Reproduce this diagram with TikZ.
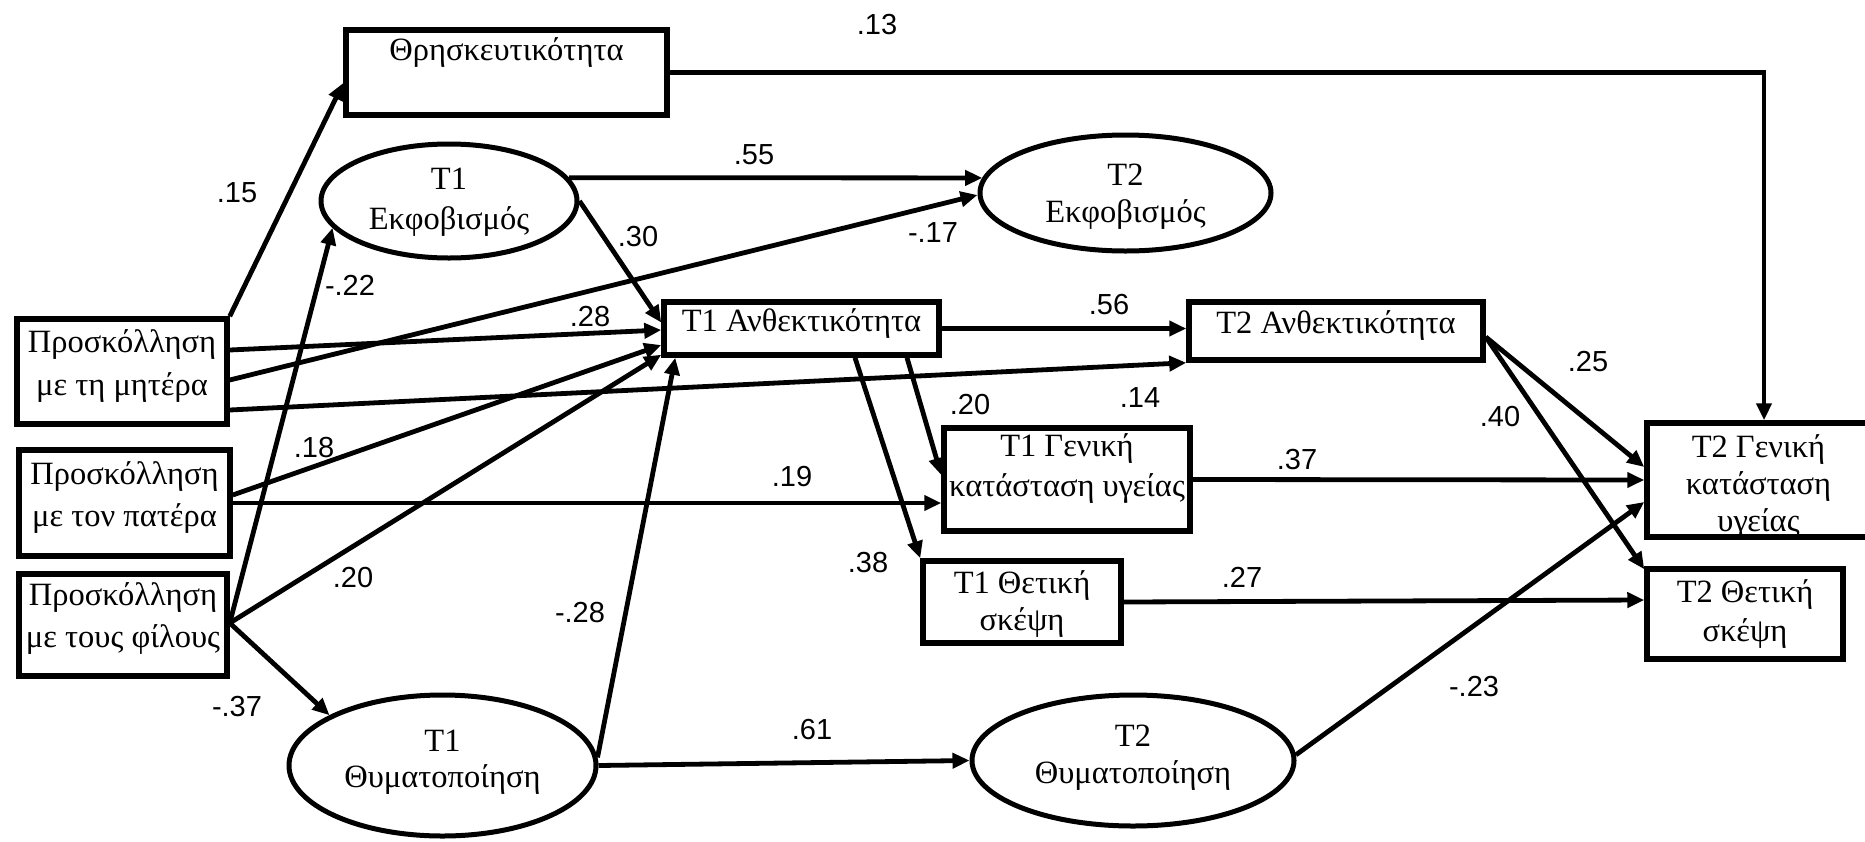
\documentclass[tikz,border=0pt]{standalone}
\usepackage{fontspec}
\setmainfont{Liberation Serif}
\newfontfamily\numfont{Liberation Sans}
\usetikzlibrary{arrows.meta,shapes.geometric,calc}
\newcommand{\mytb}[2][0pt]{\raisebox{#1}[\height][\depth]{\begin{tabular}{@{}c@{}}#2\end{tabular}}}
\begin{document}
\begin{tikzpicture}[x=1pt,y=-1pt,
  box/.style={draw, line width=5.5pt, rectangle, inner sep=0pt, font=\fontsize{32.5}{40}\selectfont},
  lat/.style={draw, line width=5pt, ellipse, inner sep=0pt, font=\fontsize{32.5}{38}\selectfont},
  conn/.style={line width=4.8pt, line join=miter, -{Triangle[length=17pt,width=15pt]}},
  coef/.style={font=\numfont\fontsize{29}{32}\selectfont, inner sep=0pt}]
\path[use as bounding box] (0,0) rectangle (1865,841);

% boxes
\node[box, minimum width=321pt, minimum height=85pt] (relig) at (506.5,72.5) {\mytb[20.5pt]{Θρησκευτικότητα}};
\node[box, minimum width=210pt, minimum height=105pt, font=\fontsize{32.5}{43}\selectfont] (mother) at (122,371.5) {\mytb[6pt]{Προσκόλληση\\με τη μητέρα}};
\node[box, minimum width=211pt, minimum height=106pt, font=\fontsize{32.5}{42}\selectfont] (father) at (124.5,503) {\mytb[6pt]{Προσκόλληση\\με τον πατέρα}};
\node[box, minimum width=208pt, minimum height=102pt, font=\fontsize{32.5}{42}\selectfont] (friends) at (123,625) {\mytb[7pt]{Προσκόλληση\\με τους φίλους}};
\node[box, minimum width=275pt, minimum height=53pt] (t1a) at (801.5,328.5) {\mytb[5pt]{T1 Ανθεκτικότητα}};
\node[box, minimum width=294pt, minimum height=58pt] (t2a) at (1336,331) {\mytb[6pt]{T2 Ανθεκτικότητα}};
\node[box, minimum width=246pt, minimum height=103pt] (t1g) at (1067,479.5) {\mytb[11pt]{T1 Γενική\\κατάσταση υγείας}};
\node[box, minimum width=198pt, minimum height=82pt, font=\fontsize{32.5}{37}\selectfont] (t1p) at (1022,602) {\mytb[-3pt]{T1 Θετική\\σκέψη}};
\node[box, minimum width=223pt, minimum height=114pt, font=\fontsize{32.5}{37}\selectfont] (t2g) at (1758.5,480) {\mytb[-7pt]{T2 Γενική\\κατάσταση\\υγείας}};
\node[box, minimum width=196pt, minimum height=90pt, font=\fontsize{32.5}{39}\selectfont] (t2p) at (1745,614) {\mytb{T2 Θετική\\σκέψη}};

% latent variables
\node[lat, minimum width=256pt, minimum height=114pt, font=\fontsize{32.5}{40}\selectfont] (t1e) at (449,201) {\mytb{T1\\Εκφοβισμός}};
\node[lat, minimum width=291pt, minimum height=116pt, font=\fontsize{32.5}{37}\selectfont] (t2e) at (1125.5,193) {\mytb[-4pt]{T2\\Εκφοβισμός}};
\node[lat, minimum width=307pt, minimum height=141pt, font=\fontsize{32.5}{36}\selectfont] (t1v) at (442.5,765.5) {\mytb[3pt]{T1\\Θυματοποίηση}};
\node[lat, minimum width=322pt, minimum height=131pt, font=\fontsize{32.5}{37}\selectfont] (t2v) at (1133,760.5) {\mytb[3pt]{T2\\Θυματοποίηση}};

% paths
\draw[conn] (mother.north east) -- ([yshift=-10.5pt]relig.west);
\draw[conn] (relig.east) -| ([xshift=5.5pt]t2g.north);
\draw[conn] (t1e.11) -- (t2e.174);
\draw[conn] ([yshift=-8.5pt]mother.east) -- ([yshift=-2pt]t2e.west);
\draw[conn] (t1e.east) -- ([yshift=6pt]t1a.west);
\draw[conn] ([yshift=2pt]friends.east) -- (t1e.193);
\draw[conn] ([yshift=21.5pt]mother.east) -- ([yshift=-1.5pt]t1a.west);
\draw[conn] ([yshift=-38.5pt]mother.east) -- (t2a.south west);
\draw[conn] ([yshift=8pt]father.east) -- ([yshift=-16.5pt]t1a.west);
\draw[conn] ([yshift=2pt]friends.east) -- ([yshift=3pt]t1a.south west);
\draw[conn] (t1v.3) -- ([xshift=14pt]t1a.south west);
\draw[conn] ([yshift=2pt]friends.east) -- (t1v.156);
\draw[conn] (t1v.east) -- (t2v.west);
\draw[conn] (t1a.east) -- (t1a.east -| t2a.west);
\draw[conn] ([xshift=105.5pt]t1a.south) -- ([yshift=4.5pt]t1g.west);
\draw[conn] ([xshift=53.5pt]t1a.south) -- (t1p.north west);
\draw[conn] (father.east) -- (father.east -| t1g.west);
\draw[conn] (t1g.east) -- (t2g.west);
\draw[conn] (t1p.east) -- ([yshift=14pt]t2p.west);
\draw[conn] ([yshift=-6pt]t2a.east) -- ([yshift=13pt]t2g.west);
\draw[conn] ([yshift=-6pt]t2a.east) -- ([yshift=-3pt]t2p.north west);
\draw[conn] (t2v.2) -- ([yshift=-22pt]t2g.west);

% coefficients
\node[coef] (c13) at (877,25) {.13};
\node[coef] (c15) at (237,193) {.15};
\node[coef] (c55) at (754,155) {.55};
\node[coef] (cm17) at (933,233) {-.17};
\node[coef] (c30) at (638,237) {.30};
\node[coef] (cm22) at (350,285) {-.22};
\node[coef] (c28) at (590,317) {.28};
\node[coef] (c56) at (1109,305) {.56};
\node[coef] (c14) at (1140,398) {.14};
\node[coef] (c20a) at (970,405) {.20};
\node[coef] (c25) at (1588,362) {.25};
\node[coef] (c40) at (1500,417) {.40};
\node[coef] (c18) at (314,448) {.18};
\node[coef] (c19) at (792,477) {.19};
\node[coef] (c37) at (1297,460) {.37};
\node[coef] (c38) at (868,563) {.38};
\node[coef] (c27) at (1242,577) {.27};
\node[coef] (c20b) at (353,578) {.20};
\node[coef] (cm28) at (580,613) {-.28};
\node[coef] (cm37) at (237,707) {-.37};
\node[coef] (cm23) at (1474,687) {-.23};
\node[coef] (c61) at (812,730) {.61};
\end{tikzpicture}
\end{document}
